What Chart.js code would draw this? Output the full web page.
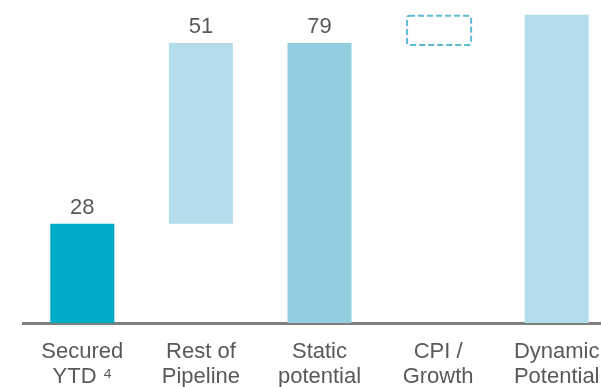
<!DOCTYPE html>
<html>
<head>
<meta charset="utf-8">
<script src="https://cdn.jsdelivr.net/npm/chart.js@4"></script>
<style>
    html, body { margin: 0; padding: 0; background: #fff; overflow: hidden; }
    #chart-wrap { width: 620px; height: 387px; position: relative; }
</style>
</head>
<body>
<div id="chart-wrap"><canvas id="potential-chart"></canvas></div>
<script>
// Waterfall data: each bar runs from its start to its end value
const categories = [['Secured', 'YTD ⁴'], ['Rest of', 'Pipeline'], ['Static', 'potential'], ['CPI /', 'Growth'], ['Dynamic', 'Potential']];
const barStarts = [0, 28, 0, 79, 0];
const barEnds = [28, 79, 79, 87, 87];
const valueLabels = ['28', '51', '79', '', ''];

const barColors = ['#00abc5', '#b3ddea', '#93cde0', 'rgba(0,0,0,0)', '#b3ddea'];
const outlinedBar = 3;
const labelFont = '"Liberation Sans", Arial, sans-serif';

// Dashed outline for the CPI / Growth step
const dashedBoxPlugin = {
    id: 'dashedBox',
    afterDatasetsDraw: function(chart) {
        const bar = chart.getDatasetMeta(0).data[outlinedBar];
        if (!bar) return;
        const p = bar.getProps(['x', 'y', 'base', 'width'], true);
        const ctx = chart.ctx;
        ctx.save();
        ctx.strokeStyle = '#5cbad6';
        ctx.lineWidth = 2;
        ctx.setLineDash([6, 3]);
        ctx.beginPath();
        const left = p.x - p.width / 2 + 1;
        const top = Math.min(p.y, p.base) + 1;
        const w = p.width;
        const h = Math.abs(p.base - p.y) + 1;
        if (ctx.roundRect) {
            ctx.roundRect(left, top, w, h, 2);
        } else {
            ctx.rect(left, top, w, h);
        }
        ctx.stroke();
        ctx.restore();
    }
};

// Value labels above the first bars
const valueLabelPlugin = {
    id: 'valueLabels',
    afterDatasetsDraw: function(chart) {
        const ctx = chart.ctx;
        const meta = chart.getDatasetMeta(0);
        ctx.save();
        ctx.font = '22px ' + labelFont;
        ctx.fillStyle = '#595959';
        ctx.textAlign = 'center';
        ctx.textBaseline = 'alphabetic';
        meta.data.forEach(function(bar, i) {
            if (!valueLabels[i]) return;
            const p = bar.getProps(['x', 'y'], true);
            ctx.fillText(valueLabels[i], p.x, p.y - 10);
        });
        ctx.restore();
    }
};

new Chart(document.getElementById('potential-chart'), {
    type: 'bar',
    data: {
        labels: categories,
        datasets: [{
            data: barStarts.map(function(start, i) { return [start, barEnds[i]]; }),
            backgroundColor: barColors,
            borderWidth: 0,
            barPercentage: 0.54,
            categoryPercentage: 1
        }]
    },
    options: {
        responsive: true,
        maintainAspectRatio: false,
        animation: false,
        layout: { padding: { left: 23, right: 4, top: 4, bottom: 0 } },
        plugins: {
            legend: { display: false },
            tooltip: { enabled: false }
        },
        scales: {
            x: {
                grid: { display: false, drawTicks: false },
                border: { display: true, color: '#7f7f7f', width: 3 },
                ticks: {
                    color: '#595959',
                    font: { family: labelFont, size: 22, lineHeight: 1.12 },
                    padding: 17,
                    maxRotation: 0,
                    autoSkip: false
                },
                afterFit: function(scale) {
                    scale.height = 64;
                }
            },
            y: { display: false, min: 0, max: 90 }
        }
    },
    plugins: [dashedBoxPlugin, valueLabelPlugin]
});
</script>
</body>
</html>
